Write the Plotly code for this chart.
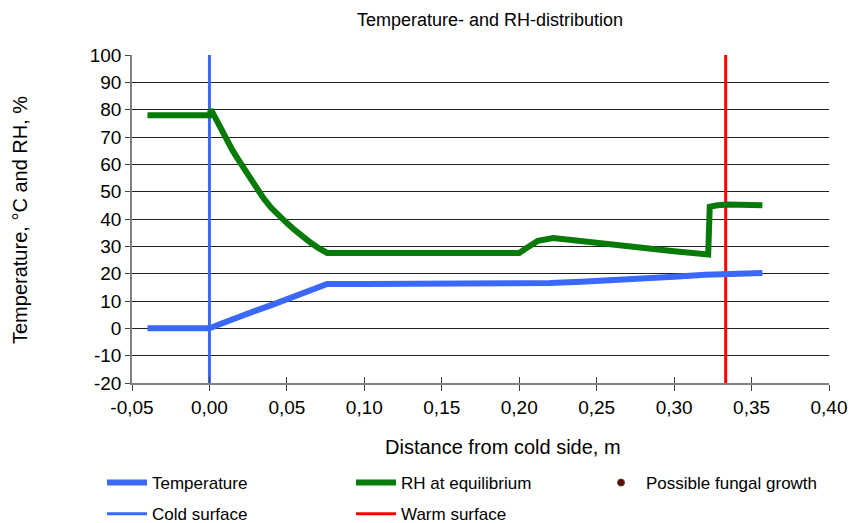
import plotly.graph_objects as go

# Data
temp_x = [-0.04, -0.02, 0.0, 0.01, 0.02, 0.03, 0.04, 0.05, 0.06, 0.07, 0.076, 0.10, 0.15, 0.20, 0.21, 0.22, 0.24, 0.26, 0.28, 0.30, 0.32, 0.333, 0.357]
temp_y = [0.0, 0.0, 0.0, 2.2, 4.5, 6.5, 8.5, 10.6, 12.8, 15.0, 16.2, 16.2, 16.2, 16.2, 16.3, 16.6, 17.0, 17.5, 18.2, 18.9, 19.6, 20.0, 20.2]

rh_x = [-0.04, -0.02, 0.0, 0.001, 0.005, 0.01, 0.015, 0.02, 0.025, 0.03, 0.035, 0.04, 0.045, 0.05, 0.055, 0.06, 0.065, 0.07, 0.076,
        0.10, 0.15, 0.20, 0.205, 0.212, 0.222, 0.24, 0.26, 0.28, 0.30, 0.322, 0.323, 0.328, 0.335, 0.357]
rh_y = [78.0, 78.0, 78.0, 80.0, 75.5, 70.0, 65.0, 60.5, 56.0, 51.5, 47.5, 44.0, 41.0, 38.5, 36.0, 33.5, 31.5, 29.5, 27.6,
        27.6, 27.6, 27.6, 29.5, 32.0, 33.0, 31.8, 30.7, 29.2, 28.2, 27.0, 44.5, 45.0, 45.3, 45.0]

cold_x = [0.0, 0.0]
warm_x = [0.3333, 0.3333]
surface_y = [-20, 100]

x_ticks = [-0.05, 0.0, 0.05, 0.10, 0.15, 0.20, 0.25, 0.30, 0.35, 0.40]
x_ticktext = ["-0,05", "0,00", "0,05", "0,10", "0,15", "0,20", "0,25", "0,30", "0,35", "0,40"]
y_ticks = [-20, -10, 0, 10, 20, 30, 40, 50, 60, 70, 80, 90, 100]
y_ticktext = ["-20", "-10", "0", "10", "20", "30", "40", "50", "60", "70", "80", "90", "100"]

BLUE = "#3A68F8"
GREEN = "#087A08"
RED = "#FF0000"
FONT = "Liberation Sans, Arial, sans-serif"

L, R, T, B = 132, 22, 55, 140
W, H = 851, 523

fig = go.Figure()
fig.add_trace(go.Scatter(x=cold_x, y=surface_y, mode="lines", name="Cold surface",
                         line=dict(color=BLUE, width=3), legend="legend", legendgroup="c", legendrank=2))
fig.add_trace(go.Scatter(x=warm_x, y=surface_y, mode="lines", name="Warm surface",
                         line=dict(color=RED, width=3), legend="legend2", legendgroup="w", legendrank=2))
fig.add_trace(go.Scatter(x=temp_x, y=temp_y, mode="lines", name="Temperature",
                         line=dict(color=BLUE, width=6), legend="legend", legendgroup="t", legendrank=1))
fig.add_trace(go.Scatter(x=rh_x, y=rh_y, mode="lines", name="RH at equilibrium",
                         line=dict(color=GREEN, width=6), legend="legend2", legendgroup="r", legendrank=1))
fig.add_trace(go.Scatter(x=[None], y=[None], mode="markers", name="Possible fungal growth",
                         marker=dict(color="#6E0000", size=7, line=dict(color="#2A5A2A", width=1)),
                         legend="legend3"))
# invisible trace on overlay axis for inside tick marks
fig.add_trace(go.Scatter(x=[None], y=[None], xaxis="x2", showlegend=False, hoverinfo="skip"))

legend_common = dict(font=dict(family=FONT, size=17, color="#000"), bgcolor="rgba(0,0,0,0)",
                     xref="container", yref="container", xanchor="left", yanchor="top",
                     tracegroupgap=6, itemwidth=40)

fig.update_layout(
    width=W, height=H,
    margin=dict(l=L, r=R, t=T, b=B, autoexpand=False),
    paper_bgcolor="white", plot_bgcolor="white",
    font=dict(family=FONT, size=16, color="#000"),
    title=dict(text="Temperature- and RH-distribution", x=490 / W, xanchor="center",
               y=1 - 20 / H, yanchor="middle", font=dict(family=FONT, size=18)),
    xaxis=dict(range=[-0.05, 0.40], tickvals=x_ticks, ticktext=x_ticktext,
               showgrid=False, zeroline=False, showline=True, linecolor="#808080", linewidth=1.5,
               ticks="outside", ticklen=6, tickcolor="#404040", tickwidth=1,
               tickfont=dict(family=FONT, size=19)),
    xaxis2=dict(range=[-0.05, 0.40], overlaying="x", side="bottom", tickvals=x_ticks,
                showticklabels=False, showgrid=False, zeroline=False, showline=False,
                ticks="inside", ticklen=6, tickcolor="#404040", tickwidth=1),
    yaxis=dict(range=[-20, 100], tickvals=y_ticks, ticktext=y_ticktext,
               showgrid=True, gridcolor="#222", gridwidth=1, zeroline=False,
               showline=True, linecolor="#808080", linewidth=1.5,
               ticks="outside", ticklen=5, tickcolor="#404040",
               tickfont=dict(family=FONT, size=19)),
    legend=dict(x=102 / W, y=1 - 465 / H, **legend_common),
    legend2=dict(x=351 / W, y=1 - 465 / H, **legend_common),
    legend3=dict(x=596 / W, y=1 - 465 / H, **legend_common),
    showlegend=True,
    annotations=[
        dict(text="Distance from cold side, m", xref="paper", yref="paper",
             x=(503 - L) / (W - L - R), y=(383 - 447) / (H - T - B),
             showarrow=False, font=dict(family=FONT, size=20),
             xanchor="center", yanchor="middle"),
        dict(text="Temperature, °C and RH, %", xref="paper", yref="paper",
             x=(20 - L) / (W - L - R), y=(H - B - 220) / (H - T - B),
             showarrow=False, font=dict(family=FONT, size=20), textangle=-90,
             xanchor="center", yanchor="middle"),
    ],
)

fig.write_html("out.html", config={"displayModeBar": False},
               post_script="document.body.style.margin='0';")
